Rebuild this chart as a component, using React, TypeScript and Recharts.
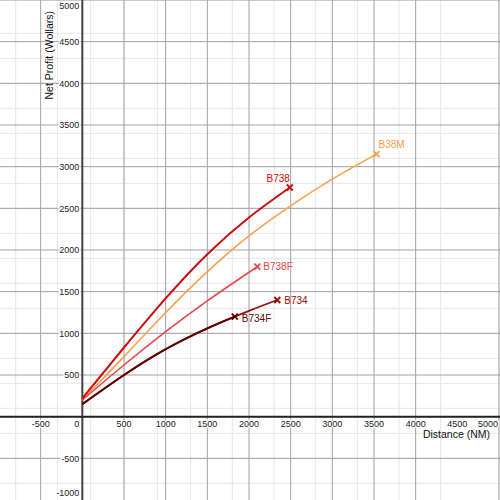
import React from "react";
import { LineChart, Line, XAxis, YAxis, CartesianGrid, ReferenceLine, ReferenceDot } from "recharts";

// Series values (distance in NM, net profit in Wollars)
const b738Dist = [0, 500, 1000, 1500, 2000, 2490];
const b738Profit = [220, 830, 1420, 1950, 2390, 2750];

const b38mDist = [0, 500, 1000, 1500, 2000, 2500, 3000, 3530];
const b38mProfit = [200, 720, 1250, 1740, 2170, 2530, 2850, 3150];

const b738fDist = [0, 500, 1000, 1500, 2100];
const b738fProfit = [200, 620, 1020, 1390, 1800];

const b734Dist = [0, 500, 1000, 1500, 2000, 2340];
const b734Profit = [150, 500, 810, 1060, 1270, 1400];

const b734fDist = [0, 500, 1000, 1500, 1830];
const b734fProfit = [150, 500, 810, 1060, 1200];

// Tick labels
const xTickValues = [-500, 500, 1000, 1500, 2000, 2500, 3000, 3500, 4000, 4500, 5000];
const yTickValues = [-1000, -500, 500, 1000, 1500, 2000, 2500, 3000, 3500, 4000, 4500, 5000];

const X_DOMAIN: [number, number] = [-988, 5012];
const Y_DOMAIN: [number, number] = [-1000, 5000];

const minorX: number[] = [];
for (let v = -900; v <= 5000; v += 100) minorX.push(v);
const minorY: number[] = [];
for (let v = -1000; v <= 5000; v += 100) minorY.push(v);
const majorX: number[] = [];
for (let v = -500; v <= 5000; v += 500) majorX.push(v);
const majorY: number[] = [];
for (let v = -1000; v <= 5000; v += 500) majorY.push(v);

const toPoints = (xs: number[], ys: number[]) => xs.map((x, i) => ({ x, y: ys[i] }));

const FONT = "'Liberation Sans', Arial, sans-serif";

type LabelCfg = { text: string; anchor: "start" | "end"; dx: number; dy: number };

const makeDot = (color: string, n: number, cfg: LabelCfg) => (props: any) => {
  const { cx, cy, index } = props;
  if (index !== n - 1 || cx == null || cy == null) return <g key={`d-${index}`} />;
  const s = 3;
  return (
    <g key={`d-${index}`}>
      <line x1={cx - s} y1={cy - s} x2={cx + s} y2={cy + s} stroke={color} strokeWidth={1.8} />
      <line x1={cx - s} y1={cy + s} x2={cx + s} y2={cy - s} stroke={color} strokeWidth={1.8} />
      <text
        x={cx + cfg.dx}
        y={cy + cfg.dy}
        textAnchor={cfg.anchor}
        fill={color}
        stroke="none"
        fontWeight="normal"
        fontSize={10}
        fontFamily={FONT}
      >
        {cfg.text}
      </text>
    </g>
  );
};

const series = [
  { name: "B38M", xs: b38mDist, ys: b38mProfit, color: "#f7a04e", width: 1.6, label: { text: "B38M", anchor: "start", dx: 2, dy: -6 } },
  { name: "B738F", xs: b738fDist, ys: b738fProfit, color: "#e4474d", width: 1.6, label: { text: "B738F", anchor: "start", dx: 6, dy: 3.5 } },
  { name: "B738", xs: b738Dist, ys: b738Profit, color: "#cc0a0a", width: 2, label: { text: "B738", anchor: "end", dx: 0, dy: -6 } },
  { name: "B734", xs: b734Dist, ys: b734Profit, color: "#9c0d0d", width: 1.8, label: { text: "B734", anchor: "start", dx: 7, dy: 3.5 } },
  { name: "B734F", xs: b734fDist, ys: b734fProfit, color: "#5e0000", width: 2, label: { text: "B734F", anchor: "start", dx: 7, dy: 5 } },
] as const;

const XTick = (v: number) => (p: any) => {
  const isLast = v === 5000;
  return (
    <text
      x={isLast ? p.cx - 1 : p.cx}
      y={p.cy + 10}
      textAnchor={isLast ? "end" : "middle"}
      fontSize={9}
      fontFamily={FONT}
      fill="#222"
      stroke="#fff"
      strokeWidth={2.5}
      paintOrder="stroke"
    >
      {v}
    </text>
  );
};

const YTick = (v: number) => (p: any) => {
  let dy = 3.2;
  if (v === 5000) dy = 9;
  if (v === -1000) dy = -4;
  return (
    <text
      x={p.cx - 3}
      y={p.cy + dy}
      textAnchor="end"
      fontSize={9}
      fontFamily={FONT}
      fill="#222"
      stroke="#fff"
      strokeWidth={2.5}
      paintOrder="stroke"
    >
      {v}
    </text>
  );
};

export default function App() {
  return (
    <div style={{ position: "fixed", left: 0, top: 0, width: 500, height: 500, background: "#fff" }}>
      <LineChart width={500} height={500} margin={{ top: 0, right: 0, bottom: 0, left: 0 }}>
        <XAxis type="number" dataKey="x" domain={X_DOMAIN} allowDataOverflow hide />
        <YAxis type="number" dataKey="y" domain={Y_DOMAIN} allowDataOverflow hide />
        <CartesianGrid stroke="#e6e6e6" strokeWidth={1} horizontalValues={minorY} verticalValues={minorX} />
        <CartesianGrid stroke="#a0a0a0" strokeWidth={1} horizontalValues={majorY} verticalValues={majorX} />
        <ReferenceLine x={0} stroke="#444" strokeWidth={2} ifOverflow="visible" />
        <ReferenceLine y={0} stroke="#222" strokeWidth={2} ifOverflow="visible" />
        {series.map((s) => (
          <Line
            key={s.name}
            data={toPoints(s.xs as any, s.ys as any)}
            dataKey="y"
            type="natural"
            stroke={s.color}
            strokeWidth={s.width}
            dot={makeDot(s.color, s.xs.length, s.label as LabelCfg)}
            activeDot={false}
            isAnimationActive={false}
          />
        ))}
        {xTickValues.map((v) => (
          <ReferenceDot key={`xt${v}`} x={v} y={0} r={0} ifOverflow="visible" shape={XTick(v)} />
        ))}
        {yTickValues.map((v) => (
          <ReferenceDot key={`yt${v}`} x={0} y={v} r={0} ifOverflow="visible" shape={YTick(v)} />
        ))}
        <ReferenceDot
          x={0}
          y={0}
          r={0}
          ifOverflow="visible"
          shape={(p: any) => (
            <text x={p.cx - 3} y={p.cy + 10} textAnchor="end" fontSize={9} fontFamily={FONT} fill="#222">
              0
            </text>
          )}
        />
        <ReferenceDot
          x={5000}
          y={0}
          r={0}
          ifOverflow="visible"
          shape={(p: any) => (
            <text x={p.cx - 9} y={p.cy + 21} textAnchor="end" fontSize={10.5} fontFamily={FONT} fill="#111">
              Distance (NM)
            </text>
          )}
        />
        <ReferenceDot
          x={0}
          y={5000}
          r={0}
          ifOverflow="visible"
          shape={(p: any) => (
            <text
              x={0}
              y={0}
              transform={`translate(${p.cx - 29}, ${p.cy + 11}) rotate(-90)`}
              textAnchor="end"
              fontSize={10.5}
              fontFamily={FONT}
              fill="#111"
            >
              Net Profit (Wollars)
            </text>
          )}
        />
      </LineChart>
    </div>
  );
}
